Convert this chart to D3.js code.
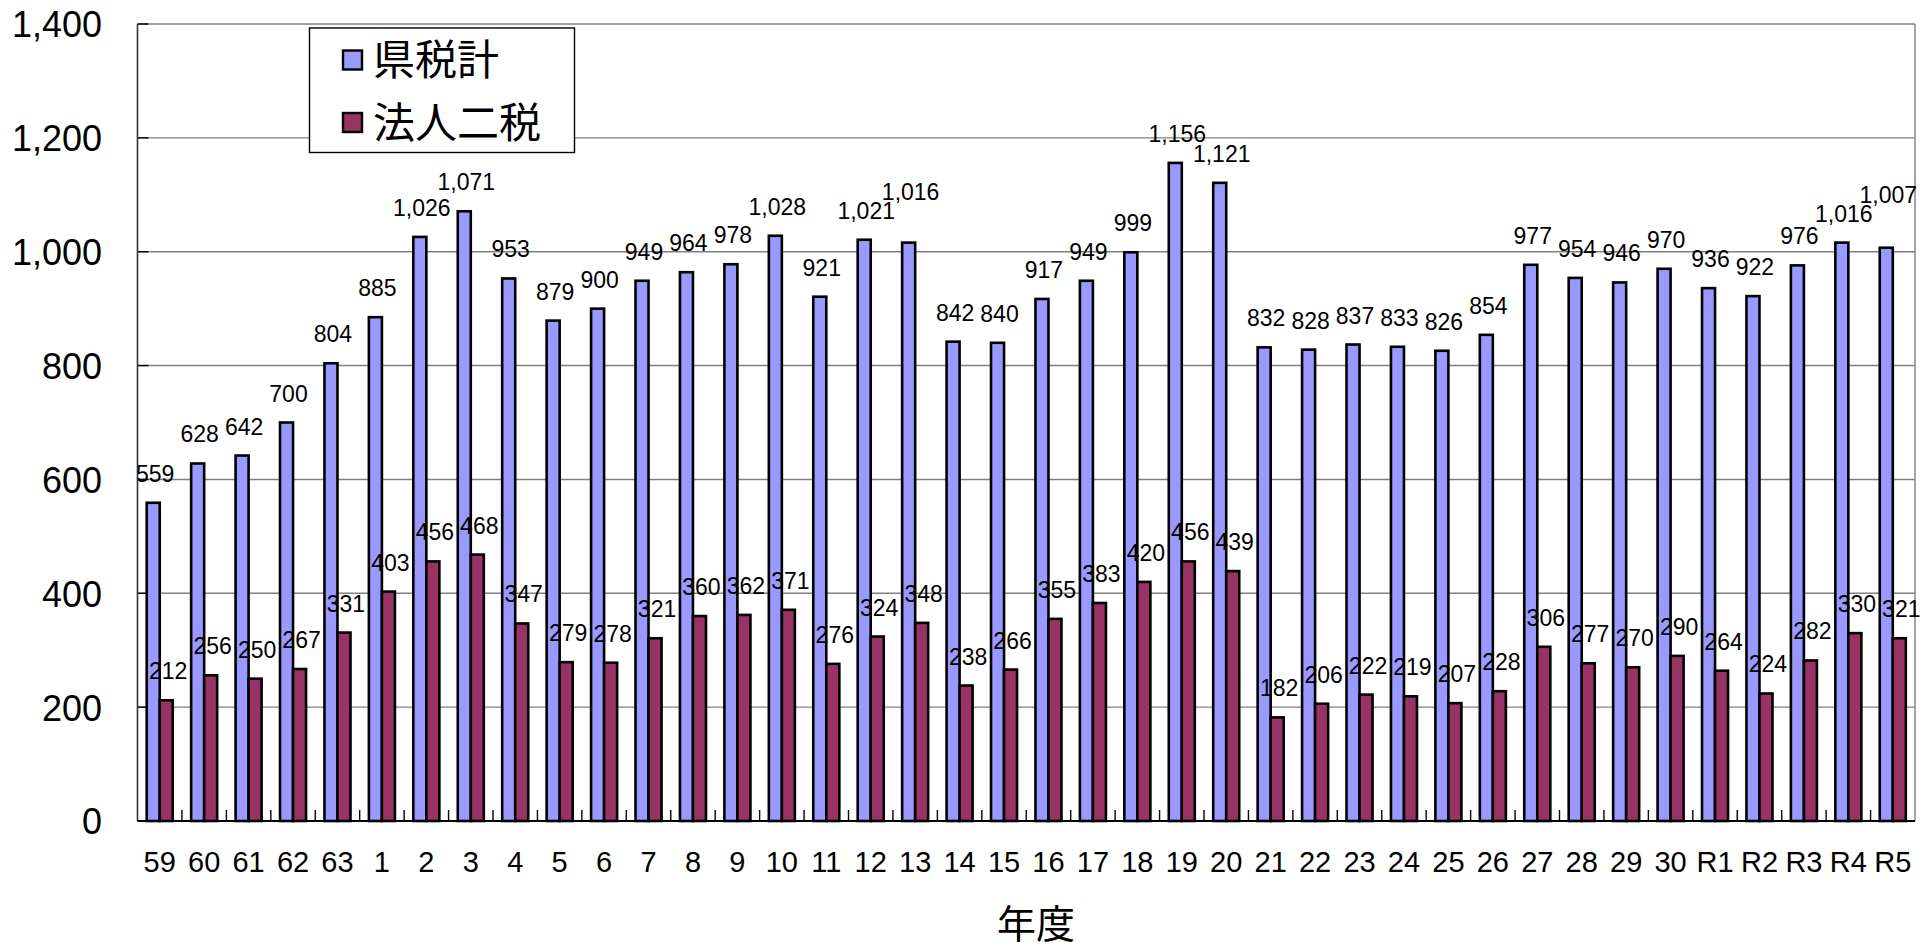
<!DOCTYPE html>
<html>
<head>
<meta charset="utf-8">
<script src="https://cdn.jsdelivr.net/npm/d3@7"></script>
<style>
  html, body { margin: 0; padding: 0; background: #ffffff; }
  svg { display: block; }
</style>
</head>
<body>
<svg id="chart" width="1932" height="949"></svg>
<script>
// ---- data ----
const categories = ["59","60","61","62","63","1","2","3","4","5","6","7","8","9","10",
  "11","12","13","14","15","16","17","18","19","20","21","22","23","24","25","26",
  "27","28","29","30","R1","R2","R3","R4","R5"];
const kenzeiTotal = [559,628,642,700,804,885,1026,1071,953,879,900,949,964,978,1028,
  921,1021,1016,842,840,917,949,999,1156,1121,832,828,837,833,826,854,
  977,954,946,970,936,922,976,1016,1007];
const hojinNizei = [212,256,250,267,331,403,456,468,347,279,278,321,360,362,371,
  276,324,348,238,266,355,383,420,456,439,182,206,222,219,207,228,
  306,277,270,290,264,224,282,330,321];
const seriesNames = ["県税計", "法人二税"];
const yTicks = [0,200,400,600,800,1000,1200,1400];
const xTitle = "年度";

// ---- layout ----
const svg = d3.select("#chart");
const plot = { left: 137.5, right: 1915, top: 24, bottom: 821 };
const colors = ["#9999FF", "#993366"];
const latin = "'Liberation Sans', Arial, sans-serif";
const cjk = "'Noto Sans CJK JP', 'Noto Sans CJK SC', sans-serif";

const x = d3.scaleBand().domain(categories).range([plot.left, plot.right]).padding(0);
const y = d3.scaleLinear().domain([0, 1400]).range([plot.bottom, plot.top]);
const bw = x.bandwidth() * 0.293;

// gridlines
svg.append("g").selectAll("line").data(yTicks.filter(t => t > 0)).join("line")
  .attr("x1", plot.left).attr("x2", plot.right)
  .attr("y1", d => y(d)).attr("y2", d => y(d))
  .attr("stroke", "#808080").attr("stroke-width", 1.4);

// right border
svg.append("line").attr("x1", plot.right).attr("x2", plot.right)
  .attr("y1", plot.top).attr("y2", plot.bottom)
  .attr("stroke", "#808080").attr("stroke-width", 1.4);

// y-axis inner ticks
svg.append("g").selectAll("line").data(yTicks).join("line")
  .attr("x1", plot.left).attr("x2", plot.left + 11)
  .attr("y1", d => y(d)).attr("y2", d => y(d))
  .attr("stroke", "#000").attr("stroke-width", 1.4);

// x-axis inner ticks at band boundaries
svg.append("g").selectAll("line").data(categories.slice(1)).join("line")
  .attr("x1", d => x(d)).attr("x2", d => x(d))
  .attr("y1", plot.bottom).attr("y2", plot.bottom - 11)
  .attr("stroke", "#000").attr("stroke-width", 1.4);

// bars
const rows = categories.map((c, i) => ({ c, v: [kenzeiTotal[i], hojinNizei[i]] }));
[0, 1].forEach(s => {
  svg.append("g").selectAll("rect").data(rows).join("rect")
    .attr("x", d => x(d.c) + x.bandwidth() / 2 - bw + s * bw)
    .attr("y", d => y(d.v[s]))
    .attr("width", bw)
    .attr("height", d => y(0) - y(d.v[s]))
    .attr("fill", colors[s])
    .attr("stroke", "#000").attr("stroke-width", 2.6);
});

// data labels (raised when they would collide with the previous label)
const fmt = d3.format(",");
const labelH = 19;
[0, 1].forEach(s => {
  const g = svg.append("g");
  let prev = null;
  rows.forEach(d => {
    const cx = x(d.c) + x.bandwidth() / 2 - bw / 2 + s * bw + 2;
    let by = y(d.v[s]) - 21;
    const t = g.append("text")
      .attr("x", cx).attr("y", by)
      .attr("text-anchor", "middle")
      .attr("font-family", latin).attr("font-size", 23)
      .attr("fill", "#000")
      .text(fmt(d.v[s]));
    const w = t.node().getComputedTextLength();
    if (prev) {
      const hOverlap = (cx - w / 2) < (prev.cx + prev.w / 2) - 1;
      const vOverlap = Math.abs(by - prev.by) < labelH;
      if (hOverlap && vOverlap) {
        by = prev.by - labelH;
        t.attr("y", by);
      }
    }
    prev = { cx, w, by };
  });
});

// axes lines
svg.append("line").attr("x1", plot.left).attr("x2", plot.left)
  .attr("y1", plot.top).attr("y2", plot.bottom)
  .attr("stroke", "#333").attr("stroke-width", 1.6);
svg.append("line").attr("x1", plot.left).attr("x2", plot.right)
  .attr("y1", plot.bottom).attr("y2", plot.bottom)
  .attr("stroke", "#000").attr("stroke-width", 2);

// y-axis labels
const yAxis = d3.axisLeft(y).tickValues(yTicks).tickSize(0).tickPadding(0).tickFormat(fmt);
const gy = svg.append("g").attr("transform", `translate(${102},0)`).call(yAxis);
gy.select(".domain").remove();
gy.selectAll("text").attr("font-family", latin).attr("font-size", 36)
  .attr("fill", "#000").attr("dy", "0.36em");

// x-axis labels
const xAxis = d3.axisBottom(x).tickSize(0).tickPadding(0);
const gx = svg.append("g").attr("transform", `translate(0,${plot.bottom})`).call(xAxis);
gx.select(".domain").remove();
gx.selectAll("text").attr("font-family", latin).attr("font-size", 29)
  .attr("fill", "#000").attr("dy", null).attr("y", 50.5);

// x title
svg.append("text").attr("x", 1036).attr("y", 938)
  .attr("text-anchor", "middle").attr("font-family", cjk).attr("font-size", 39)
  .attr("fill", "#000").text(xTitle);

// legend
const lg = svg.append("g");
lg.append("rect").attr("x", 309.5).attr("y", 28).attr("width", 265).attr("height", 124.5)
  .attr("fill", "#fff").attr("stroke", "#000").attr("stroke-width", 1.4);
const rowY = [60, 122.5];
seriesNames.forEach((name, i) => {
  lg.append("rect").attr("x", 343).attr("y", rowY[i] - 9.5).attr("width", 19).attr("height", 19)
    .attr("fill", colors[i]).attr("stroke", "#000").attr("stroke-width", 2.4);
  lg.append("text").attr("x", 373).attr("y", rowY[i]).attr("dy", "0.36em")
    .attr("font-family", cjk).attr("font-size", 42).attr("fill", "#000").text(name);
});
</script>
</body>
</html>
